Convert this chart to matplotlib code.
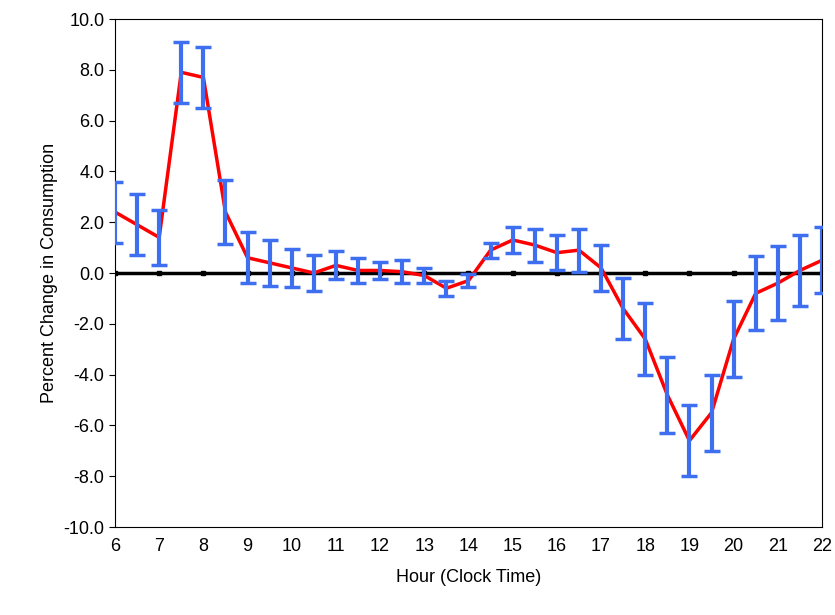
import matplotlib.pyplot as plt
import numpy as np

plt.rcParams["font.family"] = ["Liberation Sans", "DejaVu Sans"]

hours = [6 + 0.5 * i for i in range(33)]
pct_change = [2.4, 1.9, 1.4, 7.9, 7.7, 2.4, 0.6, 0.4, 0.2, 0.0, 0.3, 0.1, 0.1, 0.05,
              -0.1, -0.6, -0.3, 0.9, 1.3, 1.1, 0.8, 0.9, 0.2, -1.4, -2.6, -4.8, -6.6,
              -5.5, -2.6, -0.8, -0.4, 0.1, 0.5]
err = [1.2, 1.2, 1.1, 1.2, 1.2, 1.25, 1.0, 0.9, 0.75, 0.7, 0.55, 0.5, 0.35, 0.45,
       0.3, 0.3, 0.25, 0.3, 0.5, 0.65, 0.7, 0.85, 0.9, 1.2, 1.4, 1.5, 1.4,
       1.5, 1.5, 1.45, 1.45, 1.4, 1.3]
xticks = list(range(6, 23))
yticks = np.arange(-10, 10.1, 2)

fig = plt.figure(figsize=(8.35, 6.15), dpi=100)
ax = fig.add_axes([115 / 835, 1 - 527 / 615, 707 / 835, 508 / 615])

ax.axhline(0, color="black", linewidth=2.5, zorder=1)
ax.plot(xticks, [0] * len(xticks), linestyle="none", marker="s", markersize=3.5,
        color="black", zorder=1)
ax.plot(hours, pct_change, color="red", linewidth=2.5, zorder=2)
ax.errorbar(hours, pct_change, yerr=err, fmt="none", ecolor="#3d6ff0",
            elinewidth=3, capsize=6, capthick=2.5, zorder=3)

ax.set_xlim(6, 22)
ax.set_ylim(-10, 10)
ax.set_xticks(xticks)
ax.set_yticks(yticks)
ax.set_yticklabels([f"{v:.1f}" for v in yticks])
ax.tick_params(axis="x", length=0, labelsize=13, pad=8)
ax.tick_params(axis="y", direction="out", length=4, labelsize=13)
for s in ax.spines.values():
    s.set_linewidth(0.8)
ax.set_xlabel("Hour (Clock Time)", fontsize=13, labelpad=10)
ax.set_ylabel("Percent Change in Consumption", fontsize=13)

fig.savefig("out.png", dpi=100)
